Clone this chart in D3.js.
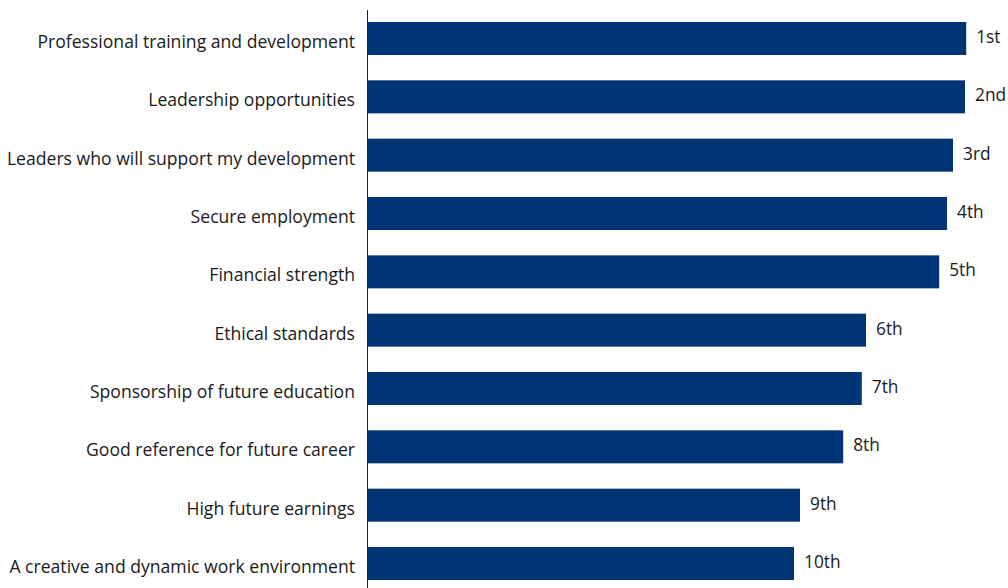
<!DOCTYPE html>
<html><head><meta charset="utf-8">
<script src="https://cdn.jsdelivr.net/npm/d3@7"></script>
<style>body{margin:0;background:#fff}svg{display:block}</style>
</head><body>
<script>
const categories = [
  "Professional training and development",
  "Leadership opportunities",
  "Leaders who will support my development",
  "Secure employment",
  "Financial strength",
  "Ethical standards",
  "Sponsorship of future education",
  "Good reference for future career",
  "High future earnings",
  "A creative and dynamic work environment"
];
const scores = [99.7, 99.5, 97.5, 96.5, 95.2, 83.0, 82.3, 79.2, 72.0, 71.0];
const rankLabels = ["1st","2nd","3rd","4th","5th","6th","7th","8th","9th","10th"];

const W = 1008, H = 588;
const svg = d3.select("body").append("svg").attr("width", W).attr("height", H);
const x = d3.scaleLinear().domain([0, 100]).range([368, 968]);
const y = d3.scaleBand().domain(categories).range([22, 580]).paddingInner(0.434).paddingOuter(0);

svg.append("line").attr("x1", 367.5).attr("x2", 367.5).attr("y1", 10).attr("y2", 588)
  .attr("stroke", "#222").attr("stroke-width", 1);

const data = categories.map((c, i) => ({c, v: scores[i], r: rankLabels[i]}));

svg.selectAll("rect.bar").data(data).join("rect").attr("class", "bar")
  .attr("x", x(0)).attr("y", d => y(d.c)).attr("width", d => x(d.v) - x(0))
  .attr("height", y.bandwidth()).attr("fill", "#003575");

svg.selectAll("text.cat").data(data).join("text").attr("class", "cat")
  .attr("x", 355).attr("y", d => y(d.c) + y.bandwidth() / 2 + 9.5)
  .attr("text-anchor", "end").attr("font-family", "'Open Sans', sans-serif")
  .attr("font-size", 17.6).attr("fill", "#1a1a1a").text(d => d.c);

svg.selectAll("text.rank").data(data).join("text").attr("class", "rank")
  .attr("x", d => x(d.v) + 10).attr("y", d => y(d.c) + y.bandwidth() / 2 + 4.5)
  .attr("font-family", "'Open Sans', sans-serif")
  .attr("font-size", 17.3).attr("fill", "#1a1a1a").text(d => d.r);
</script>
</body></html>
